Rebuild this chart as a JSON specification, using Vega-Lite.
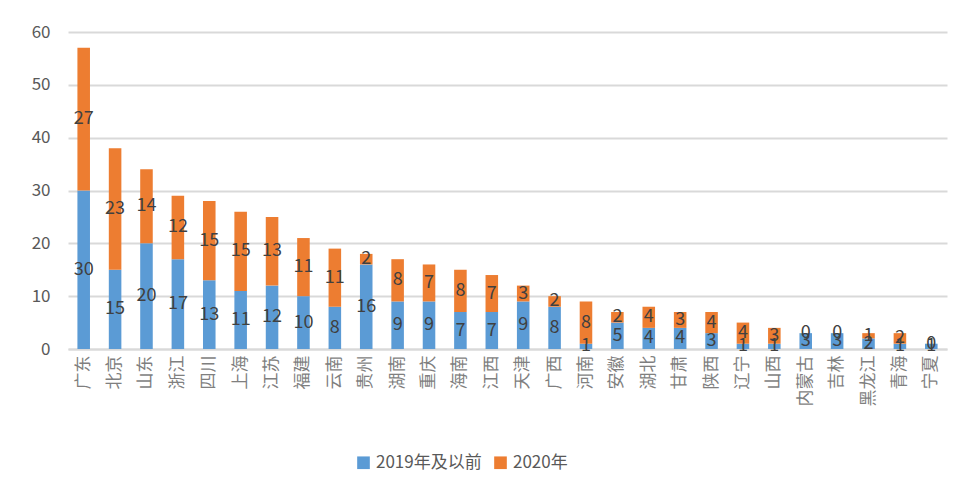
{
  "$schema": "https://vega.github.io/schema/vega-lite/v6.json",
  "autosize": {"type": "none"},
  "width": 879,
  "height": 317,
  "padding": {"left": 68, "top": 32, "right": 21, "bottom": 128},
  "background": "white",
  "config": {
    "view": {"stroke": null},
    "font": "Noto Sans CJK SC"
  },
  "data": {
    "values": [
      {"p": "广东", "s": "2019年及以前", "v": 30}, {"p": "广东", "s": "2020年", "v": 27},
      {"p": "北京", "s": "2019年及以前", "v": 15}, {"p": "北京", "s": "2020年", "v": 23},
      {"p": "山东", "s": "2019年及以前", "v": 20}, {"p": "山东", "s": "2020年", "v": 14},
      {"p": "浙江", "s": "2019年及以前", "v": 17}, {"p": "浙江", "s": "2020年", "v": 12},
      {"p": "四川", "s": "2019年及以前", "v": 13}, {"p": "四川", "s": "2020年", "v": 15},
      {"p": "上海", "s": "2019年及以前", "v": 11}, {"p": "上海", "s": "2020年", "v": 15},
      {"p": "江苏", "s": "2019年及以前", "v": 12}, {"p": "江苏", "s": "2020年", "v": 13},
      {"p": "福建", "s": "2019年及以前", "v": 10}, {"p": "福建", "s": "2020年", "v": 11},
      {"p": "云南", "s": "2019年及以前", "v": 8}, {"p": "云南", "s": "2020年", "v": 11},
      {"p": "贵州", "s": "2019年及以前", "v": 16}, {"p": "贵州", "s": "2020年", "v": 2},
      {"p": "湖南", "s": "2019年及以前", "v": 9}, {"p": "湖南", "s": "2020年", "v": 8},
      {"p": "重庆", "s": "2019年及以前", "v": 9}, {"p": "重庆", "s": "2020年", "v": 7},
      {"p": "海南", "s": "2019年及以前", "v": 7}, {"p": "海南", "s": "2020年", "v": 8},
      {"p": "江西", "s": "2019年及以前", "v": 7}, {"p": "江西", "s": "2020年", "v": 7},
      {"p": "天津", "s": "2019年及以前", "v": 9}, {"p": "天津", "s": "2020年", "v": 3},
      {"p": "广西", "s": "2019年及以前", "v": 8}, {"p": "广西", "s": "2020年", "v": 2},
      {"p": "河南", "s": "2019年及以前", "v": 1}, {"p": "河南", "s": "2020年", "v": 8},
      {"p": "安徽", "s": "2019年及以前", "v": 5}, {"p": "安徽", "s": "2020年", "v": 2},
      {"p": "湖北", "s": "2019年及以前", "v": 4}, {"p": "湖北", "s": "2020年", "v": 4},
      {"p": "甘肃", "s": "2019年及以前", "v": 4}, {"p": "甘肃", "s": "2020年", "v": 3},
      {"p": "陕西", "s": "2019年及以前", "v": 3}, {"p": "陕西", "s": "2020年", "v": 4},
      {"p": "辽宁", "s": "2019年及以前", "v": 1}, {"p": "辽宁", "s": "2020年", "v": 4},
      {"p": "山西", "s": "2019年及以前", "v": 1}, {"p": "山西", "s": "2020年", "v": 3},
      {"p": "内蒙古", "s": "2019年及以前", "v": 3}, {"p": "内蒙古", "s": "2020年", "v": 0},
      {"p": "吉林", "s": "2019年及以前", "v": 3}, {"p": "吉林", "s": "2020年", "v": 0},
      {"p": "黑龙江", "s": "2019年及以前", "v": 2}, {"p": "黑龙江", "s": "2020年", "v": 1},
      {"p": "青海", "s": "2019年及以前", "v": 1}, {"p": "青海", "s": "2020年", "v": 2},
      {"p": "宁夏", "s": "2019年及以前", "v": 1}, {"p": "宁夏", "s": "2020年", "v": 0}
    ]
  },
  "transform": [
    {"stack": "v", "groupby": ["p"], "sort": [{"field": "s", "order": "ascending"}], "as": ["v0", "v1"]},
    {"calculate": "(datum.v0 + datum.v1) / 2", "as": "vm"}
  ],
  "encoding": {
    "x": {
      "field": "p", "type": "nominal", "sort": null, "title": null,
      "scale": {"paddingInner": 0.6, "paddingOuter": 0.3},
      "axis": {
        "labelAngle": -90, "labelFontSize": 17, "labelColor": "#7f7f7f", "labelPadding": 6,
        "labelAlign": "right", "labelBaseline": "middle",
        "domainColor": "#d9d9d9", "domainWidth": 2, "ticks": false, "grid": false
      }
    }
  },
  "layer": [
    {
      "mark": {"type": "bar"},
      "encoding": {
        "y": {
          "field": "v0", "type": "quantitative", "title": null,
          "scale": {"domain": [0, 60]},
          "axis": {
            "values": [0, 10, 20, 30, 40, 50, 60], "labelFontSize": 17, "labelColor": "#595959",
            "labelPadding": 18, "domain": false, "ticks": false,
            "gridColor": "#d9d9d9", "gridWidth": 2
          }
        },
        "y2": {"field": "v1"},
        "color": {
          "field": "s", "type": "nominal", "title": null,
          "scale": {"domain": ["2019年及以前", "2020年"], "range": ["#5b9bd5", "#ed7d31"]},
          "legend": {
            "orient": "none", "direction": "horizontal", "legendX": 287, "legendY": 422,
            "symbolType": "square", "symbolSize": 160, "symbolStrokeWidth": 0,
            "labelFontSize": 17, "labelColor": "#595959", "columnPadding": 10
          }
        }
      }
    },
    {
      "mark": {"type": "text", "fontSize": 18, "color": "#404040", "baseline": "middle"},
      "encoding": {
        "y": {"field": "vm", "type": "quantitative"},
        "text": {"field": "v", "type": "quantitative"}
      }
    }
  ]
}
